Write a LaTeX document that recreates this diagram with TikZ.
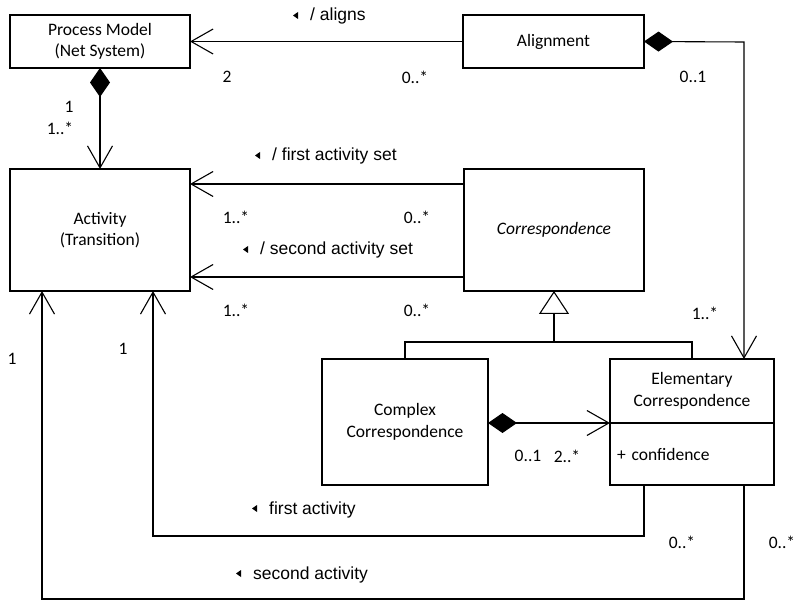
\documentclass[tikz,border=0pt]{standalone}
\usepackage{fontspec}
\setmainfont{Carlito}
\newfontfamily\rolefont{Liberation Sans}
\usetikzlibrary{arrows.meta}
% small filled triangle in front of a role name (reading direction)
\newcommand\roletri[1]{\fill ([xshift=-12pt,yshift=9pt]#1.base west) -- ++(0,7) -- ++(-5,-3.5) -- cycle;}
\begin{document}
\begin{tikzpicture}[x=1pt,y=-1pt,
  every node/.style={font=\fontsize{17.5}{21.5}\selectfont},
  classbox/.style={draw, line width=1.6pt, align=center, inner sep=0pt, outer sep=0pt, anchor=north west},
  assoc/.style={line width=1.1pt},
  nav/.style={assoc, -{Straight Barb[length=22pt,width=25pt]}},
  comp/.style={assoc, {Diamond[length=29pt,width=20pt]}-{Straight Barb[length=22pt,width=25pt]}},
  gen/.style={assoc, -{Triangle[open,length=23pt,width=30pt]}},
  role/.style={font=\rolefont\fontsize{17.5}{21}\selectfont, inner sep=0pt, anchor=base west},
  mult/.style={inner sep=0pt, anchor=center}]
\useasboundingbox (0,0) rectangle (795,601);

% classes
\node[classbox, minimum width=180pt, minimum height=53pt] (pm) at (10,15) {Process Model\\(Net System)};
\node[classbox, minimum width=181pt, minimum height=53pt] (al) at (463,15) {Alignment};
\node[classbox, minimum width=180pt, minimum height=122pt] (act) at (10,169) {Activity\\(Transition)};
\node[classbox, minimum width=180pt, minimum height=122pt] (corr) at (464,169) {\itshape Correspondence};
\node[classbox, minimum width=166pt, minimum height=126pt] (cx) at (322,359) {Complex\\Correspondence};
\node[classbox, minimum width=164pt, minimum height=64pt, font=\fontsize{17.5}{22}\selectfont] (ec) at (610,359) {Elementary\\Correspondence};
\node[classbox, minimum width=164pt, minimum height=62pt, text width=150pt, align=left, inner xsep=7pt] (ecattr) at (610,423) {+ confidence};

% associations
\draw[nav] (al.west) -- (pm.east);
\draw[comp] (pm.south) -- (act.north);
\draw[nav] ([yshift=-15pt]corr.north west) -- ([yshift=-15pt]act.north east);
\draw[nav] ([yshift=14pt]corr.south west) -- ([yshift=14pt]act.south east);

% generalization
\draw[assoc] (cx.north) -- ++(0,-17) coordinate (gj) -| (ec.north);
\draw[gen] (gj -| corr.south) -- (corr.south);

% alignment contains elementary correspondences
\coordinate (alTurn) at (744,42);
\draw[comp] (al.east) -- (alTurn) -- (alTurn |- ec.north);

% complex correspondence composed of elementary ones
\draw[comp] (ec.south west -| cx.east) -- (ec.south west);

% first / second activity
\coordinate (faR) at (644,536);
\coordinate (faL) at (153,536);
\draw[nav] (faR |- ecattr.south) -- (faR) -- (faL) -- (faL |- act.south);
\coordinate (saR) at (744,599);
\coordinate (saL) at (42,599);
\draw[nav] (saR |- ecattr.south) -- (saR) -- (saL) -- (saL |- act.south);

% role names
\node[role] (rAligns) at (310,21) {/ aligns};
\roletri{rAligns}
\node[role] (rFirstSet) at (272,161) {/ first activity set};
\roletri{rFirstSet}
\node[role] (rSecondSet) at (260,255) {/ second activity set};
\roletri{rSecondSet}
\node[role] (rFirst) at (269,514) {first activity};
\roletri{rFirst}
\node[role] (rSecond) at (253,579) {second activity};
\roletri{rSecond}

% multiplicities
\node[mult] (mPmAl) at (227,77) {2};
\node[mult] (mAlPm) at (415,77) {0..*};
\node[mult] (mAlEc) at (693,77) {0..1};
\node[mult] (mPmAct) at (69,107) {1};
\node[mult] (mActPm) at (60,128) {1..*};
\node[mult] (mFsAct) at (236,217) {1..*};
\node[mult] (mFsCorr) at (417,217) {0..*};
\node[mult] (mSsAct) at (236,310) {1..*};
\node[mult] (mSsCorr) at (417,310) {0..*};
\node[mult] (mEcAl) at (705,313) {1..*};
\node[mult] (mFaAct) at (123,349) {1};
\node[mult] (mSaAct) at (12,359) {1};
\node[mult] (mCxEc) at (528,456) {0..1};
\node[mult] (mEcCx) at (567,456) {2..*};
\node[mult] (mFaEc) at (682,542) {0..*};
\node[mult] (mSaEc) at (782,542) {0..*};
\end{tikzpicture}
\end{document}
